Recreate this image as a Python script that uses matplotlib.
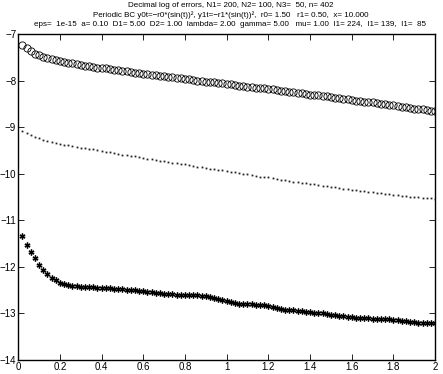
"""Decimal log of errors for three quantities on a uniform grid."""
import numpy as np
import matplotlib
matplotlib.use('Agg')
import matplotlib.pyplot as plt

plt.rcParams['font.family'] = ['Liberation Sans', 'DejaVu Sans']

# grid: 100 points, step 0.02
x = np.arange(1, 101) * 0.02

err_circles = [
    -7.24, -7.31, -7.37, -7.42, -7.46, -7.49, -7.52, -7.54, -7.56, -7.58,
    -7.60, -7.62, -7.63, -7.65, -7.66, -7.68, -7.69, -7.70, -7.72, -7.73,
    -7.74, -7.76, -7.77, -7.78, -7.79, -7.80, -7.82, -7.83, -7.84, -7.85,
    -7.86, -7.87, -7.89, -7.90, -7.91, -7.92, -7.93, -7.94, -7.95, -7.96,
    -7.97, -7.98, -8.00, -8.01, -8.02, -8.03, -8.04, -8.05, -8.06, -8.07,
    -8.08, -8.09, -8.11, -8.12, -8.13, -8.14, -8.15, -8.16, -8.17, -8.18,
    -8.19, -8.21, -8.22, -8.23, -8.24, -8.25, -8.26, -8.27, -8.28, -8.30,
    -8.31, -8.32, -8.33, -8.34, -8.35, -8.37, -8.38, -8.39, -8.40, -8.41,
    -8.43, -8.44, -8.45, -8.46, -8.47, -8.49, -8.50, -8.51, -8.52, -8.53,
    -8.55, -8.56, -8.57, -8.58, -8.60, -8.61, -8.62, -8.64, -8.65, -8.66,
]

err_dots = [
    -9.08, -9.13, -9.17, -9.21, -9.24, -9.27, -9.30, -9.32, -9.34, -9.36,
    -9.38, -9.39, -9.41, -9.42, -9.44, -9.45, -9.47, -9.48, -9.50, -9.51,
    -9.53, -9.54, -9.56, -9.57, -9.59, -9.60, -9.62, -9.63, -9.65, -9.66,
    -9.68, -9.69, -9.70, -9.72, -9.73, -9.75, -9.76, -9.78, -9.79, -9.80,
    -9.82, -9.83, -9.85, -9.86, -9.87, -9.89, -9.90, -9.92, -9.93, -9.94,
    -9.96, -9.97, -9.99, -10.00, -10.01, -10.03, -10.04, -10.06, -10.07, -10.08,
    -10.10, -10.11, -10.13, -10.14, -10.15, -10.17, -10.18, -10.19, -10.21, -10.22,
    -10.23, -10.24, -10.26, -10.27, -10.28, -10.29, -10.31, -10.32, -10.33, -10.34,
    -10.36, -10.37, -10.38, -10.39, -10.40, -10.41, -10.42, -10.43, -10.44, -10.45,
    -10.46, -10.47, -10.48, -10.49, -10.50, -10.51, -10.52, -10.52, -10.53, -10.54,
]

err_stars = [
    -11.34, -11.52, -11.69, -11.82, -11.95, -12.07, -12.16, -12.24, -12.29, -12.34,
    -12.37, -12.39, -12.41, -12.42, -12.43, -12.43, -12.44, -12.44, -12.45, -12.45,
    -12.46, -12.46, -12.47, -12.47, -12.48, -12.49, -12.49, -12.50, -12.51, -12.52,
    -12.53, -12.54, -12.56, -12.57, -12.58, -12.58, -12.59, -12.60, -12.60, -12.61,
    -12.61, -12.61, -12.61, -12.62, -12.63, -12.64, -12.66, -12.69, -12.71, -12.73,
    -12.75, -12.77, -12.79, -12.79, -12.80, -12.80, -12.81, -12.81, -12.82, -12.84,
    -12.87, -12.89, -12.91, -12.92, -12.93, -12.93, -12.94, -12.95, -12.96, -12.97,
    -12.98, -12.99, -13.00, -13.01, -13.03, -13.04, -13.05, -13.06, -13.07, -13.08,
    -13.09, -13.09, -13.10, -13.10, -13.11, -13.11, -13.12, -13.12, -13.13, -13.14,
    -13.15, -13.16, -13.17, -13.18, -13.19, -13.20, -13.20, -13.20, -13.20, -13.20,
]

title_lines = [
    'Decimal log of errors, N1= 200, N2= 100, N3=  50, n= 402',
    'Periodic BC y0t=\u2212r0*(sin(t))\u00b2, y1t=\u2212r1*(sin(t))\u00b2,  r0= 1.50   r1= 0.50,  x= 10.000',
    'eps=  1e-15  a= 0.10  D1= 5.00  D2= 1.00  lambda= 2.00  gamma= 5.00   mu= 1.00  I1= 224,  I1= 139,  I1=  85',
]
title_baselines = [0.980, 0.954, 0.930]

xticks = [0, 0.2, 0.4, 0.6, 0.8, 1.0, 1.2, 1.4, 1.6, 1.8, 2.0]
xticklabels = ['0', '0.2', '0.4', '0.6', '0.8', '1', '1.2', '1.4', '1.6', '1.8', '2']
yticks = [-14, -13, -12, -11, -10, -9, -8, -7]
yticklabels = ['\u221214', '\u221213', '\u221212', '\u221211', '\u221210', '\u22129', '\u22128', '\u22127']


def main() -> None:
    fig = plt.figure(figsize=(4.43, 3.74), dpi=100)
    ax = fig.add_axes([0.0413, 0.0374, 0.9407, 0.8717])

    ax.plot(x, err_circles, linestyle='none', marker='o', markersize=5.2,
            markerfacecolor='none', markeredgecolor='black', markeredgewidth=0.6)
    ax.plot(x, err_dots, linestyle='none', marker='s', markersize=1.3,
            markerfacecolor='#222222', markeredgewidth=0)
    ax.plot(x, err_stars, linestyle='none', marker='o', markersize=4.4,
            markerfacecolor='#c8c8c8', markeredgewidth=0, alpha=0.8)
    ax.plot(x, err_stars, linestyle='none', marker=(6, 2, 0), markersize=4.2,
            color='black', markeredgewidth=0.9)

    ax.set_xlim(0, 2)
    ax.set_ylim(-14, -7)
    ax.set_xticks(xticks)
    ax.set_xticklabels(xticklabels)
    ax.set_yticks(yticks)
    ax.set_yticklabels(yticklabels)
    ax.tick_params(direction='in', length=4, width=0.6, labelsize=7,
                   top=True, right=True, pad=1.5)
    for sp in ax.spines.values():
        sp.set_linewidth(1.0)

    for line, yb in zip(title_lines, title_baselines):
        fig.text(0.52, yb, line, ha='center', va='baseline', fontsize=5.75)

    fig.savefig('out.png', dpi=100)
    plt.close(fig)


if __name__ == '__main__':
    main()
